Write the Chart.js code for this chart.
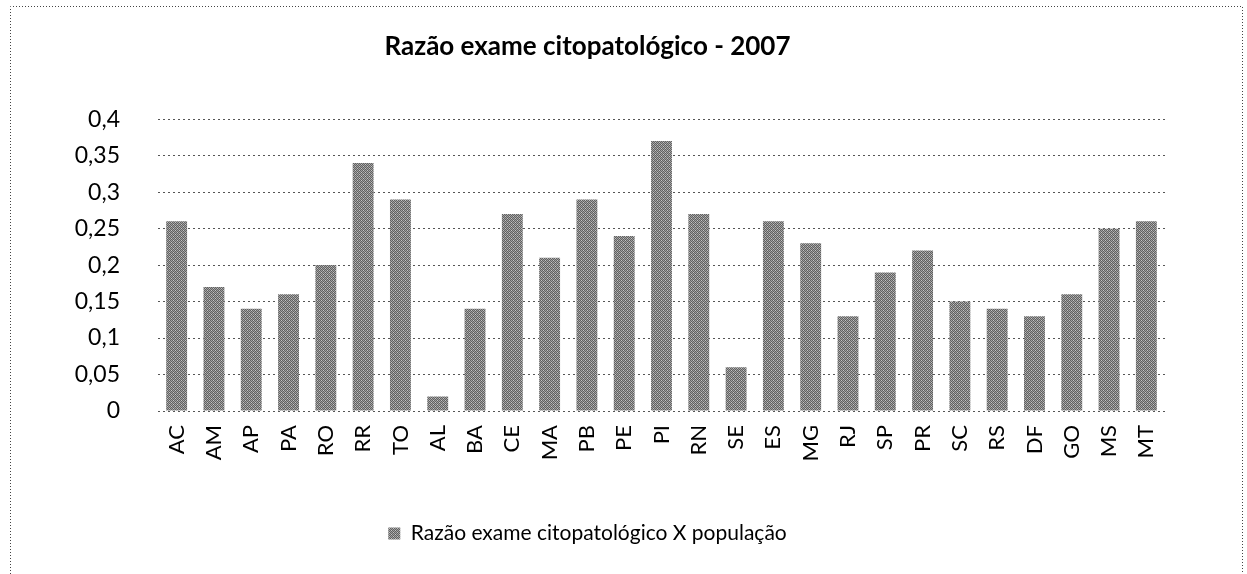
<!DOCTYPE html>
<html>
<head>
<meta charset="utf-8">
<script src="https://cdn.jsdelivr.net/npm/chart.js@4"></script>
<style>
  html, body { margin: 0; padding: 0; background: #fff; }
  #wrap { position: relative; width: 1247px; height: 574px; }
</style>
</head>
<body>
<div id="wrap"><canvas id="c" width="1247" height="574"></canvas></div>
<script>
const categories = ["AC","AM","AP","PA","RO","RR","TO","AL","BA","CE","MA","PB","PE","PI","RN","SE","ES","MG","RJ","SP","PR","SC","RS","DF","GO","MS","MT"];
const razao = [0.26,0.17,0.14,0.16,0.20,0.34,0.29,0.02,0.14,0.27,0.21,0.29,0.24,0.37,0.27,0.06,0.26,0.23,0.13,0.19,0.22,0.15,0.14,0.13,0.16,0.25,0.26];
const seriesLabel = "Razão exame citopatológico X população";
const chartTitle = "Razão exame citopatológico - 2007";

function makePattern() {
  const c = document.createElement('canvas');
  c.width = 4; c.height = 4;
  const x = c.getContext('2d');
  x.fillStyle = '#a0a0a0'; x.fillRect(0, 0, 4, 4);
  x.fillStyle = '#606060';
  x.fillRect(0, 0, 1, 1); x.fillRect(2, 0, 1, 1);
  x.fillRect(1, 1, 1, 1); x.fillRect(3, 1, 1, 1);
  x.fillRect(0, 2, 1, 1); x.fillRect(2, 2, 1, 1);
  x.fillRect(1, 3, 1, 1); x.fillRect(3, 3, 1, 1);
  x.fillStyle = '#c4c4c4';
  x.fillRect(1, 0, 1, 1); x.fillRect(3, 2, 1, 1);
  return x.createPattern(c, 'repeat');
}
const pattern = makePattern();

const frame = {
  id: 'frame',
  beforeDraw(chart) {
    const ctx = chart.ctx;
    ctx.save();
    ctx.strokeStyle = '#444';
    ctx.lineWidth = 1;
    ctx.setLineDash([1, 2]);
    ctx.beginPath();
    ctx.moveTo(10.5, 580);
    ctx.lineTo(10.5, 6.5);
    ctx.lineTo(1242.5, 6.5);
    ctx.lineTo(1242.5, 580);
    ctx.stroke();
    ctx.restore();
  }
};

const FONT = "Lato, 'Open Sans', sans-serif";

new Chart(document.getElementById('c'), {
  type: 'bar',
  data: {
    labels: categories,
    datasets: [{
      label: seriesLabel,
      data: razao,
      backgroundColor: pattern,
      borderWidth: 0,
      barPercentage: 0.56,
      categoryPercentage: 1.0
    }]
  },
  options: {
    responsive: false,
    animation: false,
    layout: { padding: { left: 10, right: 82, top: 0, bottom: 20 } },
    plugins: {
      title: {
        display: true,
        text: chartTitle,
        color: '#000',
        font: { family: FONT, size: 26, weight: 'bold' },
        padding: { top: 31, bottom: 57 }
      },
      legend: {
        position: 'bottom',
        labels: {
          color: '#000',
          font: { family: FONT, size: 21 },
          boxWidth: 12,
          boxHeight: 12,
          padding: 10
        }
      },
      tooltip: { enabled: false }
    },
    scales: {
      x: {
        grid: { display: false },
        border: { display: false },
        ticks: {
          color: '#000',
          font: { family: FONT, size: 22 },
          minRotation: 90,
          maxRotation: 90,
          padding: 6,
          autoSkip: false
        },
        afterFit(s) { s.height = 102; }
      },
      y: {
        min: 0,
        max: 0.4,
        grid: { color: '#555', drawTicks: false, lineWidth: 1 },
        border: { display: false, dash: [2, 3] },
        ticks: {
          stepSize: 0.05,
          color: '#000',
          font: { family: FONT, size: 23 },
          padding: 38,
          callback: (v) => String(Math.round(v * 100) / 100).replace('.', ',')
        },
        afterFit(s) { s.width = 148; }
      }
    }
  },
  plugins: [frame]
});
</script>
</body>
</html>
